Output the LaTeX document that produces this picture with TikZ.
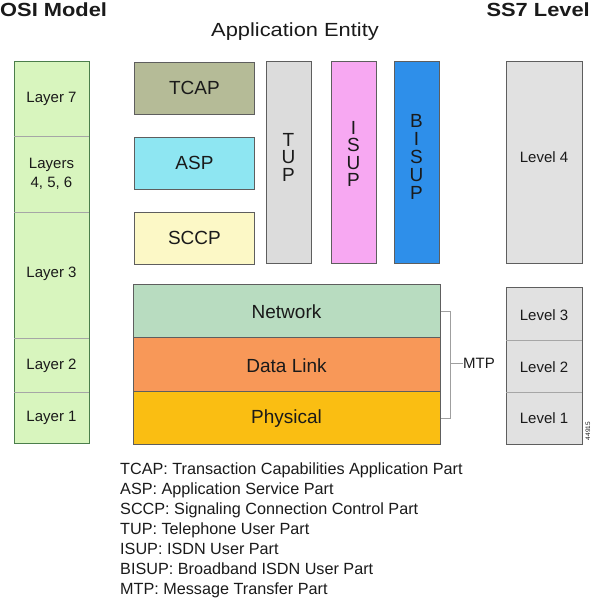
\documentclass[tikz,border=0pt]{standalone}
\usepackage{fontspec}
\setmainfont{Liberation Sans}
\newfontfamily\titlefont{Liberation Sans}[FakeStretch=1.15]
\definecolor{osiC}{HTML}{D8F5BE}
\definecolor{tcapC}{HTML}{B5BB97}
\definecolor{aspC}{HTML}{8EE6F2}
\definecolor{sccpC}{HTML}{FCF8C6}
\definecolor{tupC}{HTML}{DCDCDC}
\definecolor{isupC}{HTML}{F7A8F2}
\definecolor{bisupC}{HTML}{2E8FEA}
\definecolor{netC}{HTML}{B8DCC0}
\definecolor{dlC}{HTML}{F89858}
\definecolor{phyC}{HTML}{FABE12}
\definecolor{lvlC}{HTML}{E1E1E1}
\definecolor{edgeC}{HTML}{5E5E5E}
\definecolor{txtC}{HTML}{1A1A1A}
\begin{document}
\begin{tikzpicture}[x=1pt,y=-1pt,
  box/.style={draw=edgeC,line width=0.9pt,inner sep=0pt,anchor=north west},
  lbl/.style={inner sep=0pt,text=txtC,font=\fontsize{15}{18}\selectfont},
  big/.style={inner sep=0pt,text=txtC,font=\fontsize{19}{22}\selectfont},
  vert/.style={inner sep=0pt,text=txtC,align=center,font=\fontsize{19}{17.5}\selectfont},
  div/.style={draw=gray!70,line width=0.6pt},
  brk/.style={draw=gray!75,line width=0.8pt},
  legend/.style={inner sep=0pt,anchor=base west,text=txtC,font=\fontsize{16.2}{20}\selectfont},
  ttl/.style={inner sep=0pt,text=txtC,font=\titlefont\fontsize{19}{22}\selectfont}]
\useasboundingbox (0,0) rectangle (591,600);
% titles
\node[ttl,anchor=base west,font=\titlefont\bfseries\fontsize{19}{22}\selectfont] (tosi) at (0,16) {OSI Model};
\node[ttl,anchor=base] (tapp) at (295,36.5) {Application Entity};
\node[ttl,anchor=base east,font=\titlefont\bfseries\fontsize{19}{22}\selectfont] (tss7) at (590,16) {SS7 Level};
% OSI column
\node[box,fill=osiC,draw=edgeC!80!green,minimum width=75pt,minimum height=382pt] (osi) at (14,61) {};
\draw[div] (14,136) -- (89,136);
\draw[div] (14,212) -- (89,212);
\draw[div] (14,338) -- (89,338);
\draw[div] (14,392) -- (89,392);
\node[lbl] (l7) at (51.5,99) {Layer 7};
\node[lbl,align=center,font=\fontsize{15}{19}\selectfont] (l456) at (51.5,174) {Layers\\4, 5, 6};
\node[lbl] (l3) at (51.5,274) {Layer 3};
\node[lbl] (l2) at (51.5,366) {Layer 2};
\node[lbl] (l1) at (51.5,418) {Layer 1};
% upper protocol boxes
\node[box,fill=tcapC,minimum width=120pt,minimum height=52pt] (tcap) at (134,62) {};
\node[big] at (tcap.center) {TCAP};
\node[box,fill=aspC,minimum width=120pt,minimum height=52pt] (asp) at (134,137) {};
\node[big] at (asp.center) {ASP};
\node[box,fill=sccpC,minimum width=120pt,minimum height=52pt] (sccp) at (134,212) {};
\node[big] at (sccp.center) {SCCP};
\node[box,fill=tupC,minimum width=45pt,minimum height=202pt] (tup) at (266,61) {};
\node[vert] at (288.5,157) {T\\U\\P};
\node[box,fill=isupC,minimum width=45pt,minimum height=202pt] (isup) at (331,61) {};
\node[vert] at (353.5,154) {I\\S\\U\\P};
\node[box,fill=bisupC,minimum width=45pt,minimum height=202pt] (bisup) at (394,61) {};
\node[vert,font=\fontsize{19}{18}\selectfont] at (416.5,157) {B\\I\\S\\U\\P};
% MTP boxes
\node[box,fill=netC,minimum width=307pt,minimum height=53pt] (net) at (133,284) {};
\node[big] at (286.5,312) {Network};
\node[box,fill=dlC,minimum width=307pt,minimum height=54pt] (dl) at (133,337) {};
\node[big] at (286.5,366) {Data Link};
\node[box,fill=phyC,minimum width=307pt,minimum height=53pt] (phy) at (133,391) {};
\node[big] at (286.5,419) {Physical};
% bracket
\coordinate (bk) at (450,363);
\node[lbl,anchor=west,inner sep=0pt] (mtp) at (463,363) {MTP};
\draw[brk] ([yshift=-0.5pt]net.east) -| (bk |- phy.east) -- (phy.east);
\draw[brk] (mtp.west) -- (bk);
% SS7 levels
\node[box,fill=lvlC,minimum width=76pt,minimum height=202pt] (lv4) at (506,61) {};
\node[lbl] at (544,157) {Level 4};
\node[box,fill=lvlC,minimum width=76pt,minimum height=157pt] (lv) at (506,287) {};
\draw[div] (506,340) -- (582,340);
\draw[div] (506,392) -- (582,392);
\node[lbl] (lv3) at (544,315) {Level 3};
\node[lbl] (lv2) at (544,367) {Level 2};
\node[lbl] (lv1) at (544,418) {Level 1};
\node[inner sep=0pt,rotate=90,text=txtC,font=\fontsize{6.5}{7}\selectfont] (fig) at (588,431) {44915};
% legend
\node[legend] (g1) at (120,474) {TCAP: Transaction Capabilities Application Part};
\node[legend] (g2) at (120,494) {ASP: Application Service Part};
\node[legend] (g3) at (120,514) {SCCP: Signaling Connection Control Part};
\node[legend] (g4) at (120,534) {TUP: Telephone User Part};
\node[legend] (g5) at (120,554) {ISUP: ISDN User Part};
\node[legend] (g6) at (120,574) {BISUP: Broadband ISDN User Part};
\node[legend] (g7) at (120,594) {MTP: Message Transfer Part};
\end{tikzpicture}
\end{document}
